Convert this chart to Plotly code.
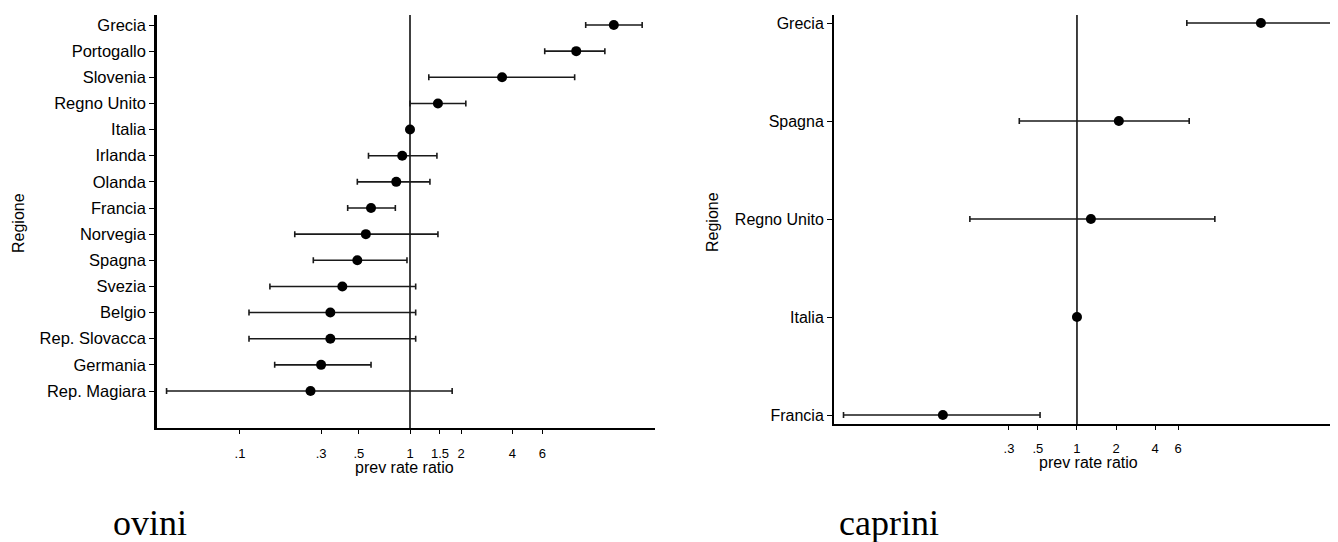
import plotly.graph_objects as go

# ---- data: ovini (sheep) ----
ovini_regions = ["Grecia", "Portogallo", "Slovenia", "Regno Unito", "Italia", "Irlanda",
                 "Olanda", "Francia", "Norvegia", "Spagna", "Svezia", "Belgio",
                 "Rep. Slovacca", "Germania", "Rep. Magiara"]
ovini_prr = [15.8, 9.5, 3.48, 1.46, 1.0, 0.90, 0.83, 0.59, 0.55, 0.49, 0.40, 0.34, 0.34, 0.30, 0.26]
ovini_low = [10.8, 6.2, 1.29, 1.0, 1.0, 0.57, 0.49, 0.43, 0.21, 0.27, 0.15, 0.113, 0.113, 0.16, 0.037]
ovini_high = [23.2, 14.0, 9.3, 2.13, 1.0, 1.44, 1.31, 0.82, 1.46, 0.96, 1.08, 1.08, 1.08, 0.59, 1.77]

# ---- data: caprini (goats) ----
caprini_regions = ["Grecia", "Spagna", "Regno Unito", "Italia", "Francia"]
caprini_prr = [26.0, 2.1, 1.28, 1.0, 0.093]
caprini_low = [7.0, 0.36, 0.15, 1.0, 0.016]
caprini_high = [97.0, 7.3, 11.5, 1.0, 0.52]

ovini_ticks = [0.1, 0.3, 0.5, 1, 1.5, 2, 4, 6]
ovini_ticktext = [".1", ".3", ".5", "1", "1.5", "2", "4", "6"]
caprini_ticks = [0.3, 0.5, 1, 2, 4, 6]
caprini_ticktext = [".3", ".5", "1", "2", "4", "6"]

OFF = 8  # default page margin of the html body
W, H = 1338 - OFF, 542 - OFF
def px_x(p):
    return (p - OFF) / W
def px_y(p):
    return 1 - (p - OFF) / H

fig = go.Figure()

def add_panel(regions, prr, low, high, xa, ya):
    n = len(regions)
    ys = [n - i for i in range(n)]
    plus = [h - p for h, p in zip(high, prr)]
    minus = [p - l for p, l in zip(prr, low)]
    has_ci = [h != l for h, l in zip(high, low)]
    fig.add_trace(go.Scatter(
        x=[p for p, c in zip(prr, has_ci) if c],
        y=[y for y, c in zip(ys, has_ci) if c],
        mode="markers",
        marker=dict(size=0.1, color="rgba(0,0,0,0)"),
        error_x=dict(type="data", symmetric=False,
                     array=[v for v, c in zip(plus, has_ci) if c],
                     arrayminus=[v for v, c in zip(minus, has_ci) if c],
                     color="#1a1a1a", thickness=1.6, width=3),
        xaxis=xa, yaxis=ya, showlegend=False, hoverinfo="skip"))
    fig.add_trace(go.Scatter(
        x=prr, y=ys, mode="markers",
        marker=dict(size=10, color="black", symbol="circle"),
        xaxis=xa, yaxis=ya, showlegend=False))
    return ys

ys_o = add_panel(ovini_regions, ovini_prr, ovini_low, ovini_high, "x", "y")
ys_c = add_panel(caprini_regions, caprini_prr, caprini_low, caprini_high, "x2", "y2")

SANS = "Liberation Sans, Arial, sans-serif"
SERIF = "Liberation Serif, Times New Roman, serif"
ylab_left = dict(family=SANS, size=16.5, color="black")
ylab_right = dict(family=SANS, size=16, color="black")
xtick_font = dict(family=SANS, size=13, color="black")
title_font = dict(family=SANS, size=16, color="black")

# panel geometry (reference pixels)
L_left, L_right, L_top, L_bot = 157, 655, 15, 428
R_left, R_right, R_top, R_bot = 834, 1338, 15, 424

fig.update_layout(
    width=W, height=H,
    margin=dict(l=0, r=0, t=0, b=0),
    paper_bgcolor="white", plot_bgcolor="white",
    xaxis=dict(type="log", domain=[px_x(L_left), px_x(L_right)],
               range=[-1.488, 1.441], anchor="y",
               tickvals=ovini_ticks, ticktext=ovini_ticktext,
               showgrid=False, zeroline=False, showline=True, linecolor="black", linewidth=1.5,
               ticks="outside", ticklen=4, tickcolor="black", tickfont=xtick_font,
               ticklabelstandoff=9),
    yaxis=dict(domain=[px_y(L_bot), px_y(L_top)],
               range=[1 - (L_bot - 391) / 26.14, 15 + (25 - L_top) / 26.14], anchor="x",
               tickvals=ys_o, ticktext=ovini_regions,
               showgrid=False, zeroline=False, showline=True, linecolor="black", linewidth=2.5,
               ticks="outside", ticklen=5, tickcolor="black", tickfont=ylab_left),
    xaxis2=dict(type="log", domain=[px_x(R_left), min(1.0, px_x(R_right))],
                range=[-1.869, 2.008], anchor="y2",
                tickvals=caprini_ticks, ticktext=caprini_ticktext,
                showgrid=False, zeroline=False, showline=True, linecolor="black", linewidth=1.5,
                ticks="outside", ticklen=4, tickcolor="black", tickfont=xtick_font,
                ticklabelstandoff=8),
    yaxis2=dict(domain=[px_y(R_bot), px_y(R_top)],
                range=[1 - (R_bot - 415) / 98.0, 5 + (23 - R_top) / 98.0], anchor="x2",
                tickvals=ys_c, ticktext=caprini_regions,
                showgrid=False, zeroline=False, showline=True, linecolor="black", linewidth=2,
                ticks="outside", ticklen=5, tickcolor="black", tickfont=ylab_right),
    shapes=[
        dict(type="line", xref="x", yref="y domain", x0=1, x1=1, y0=0, y1=1,
             line=dict(color="black", width=1.5), layer="below"),
        dict(type="line", xref="x2", yref="y2 domain", x0=1, x1=1, y0=0, y1=1,
             line=dict(color="black", width=1.5), layer="below"),
    ],
    annotations=[
        dict(text="prev rate ratio", xref="paper", yref="paper", x=px_x(404), y=px_y(467),
             xanchor="center", yanchor="middle", showarrow=False, font=title_font),
        dict(text="prev rate ratio", xref="paper", yref="paper", x=px_x(1088), y=px_y(462),
             xanchor="center", yanchor="middle", showarrow=False, font=title_font),
        dict(text="Regione", xref="paper", yref="paper", x=px_x(18), y=px_y(223),
             xanchor="center", yanchor="middle", textangle=-90, showarrow=False,
             font=title_font),
        dict(text="Regione", xref="paper", yref="paper", x=px_x(712), y=px_y(222),
             xanchor="center", yanchor="middle", textangle=-90, showarrow=False,
             font=title_font),
        dict(text="ovini", xref="paper", yref="paper", x=px_x(111), y=px_y(523),
             xanchor="left", yanchor="middle", showarrow=False,
             font=dict(family=SERIF, size=36, color="black")),
        dict(text="caprini", xref="paper", yref="paper", x=px_x(837), y=px_y(523),
             xanchor="left", yanchor="middle", showarrow=False,
             font=dict(family=SERIF, size=36, color="black")),
    ],
)

fig.write_html("out.html")
